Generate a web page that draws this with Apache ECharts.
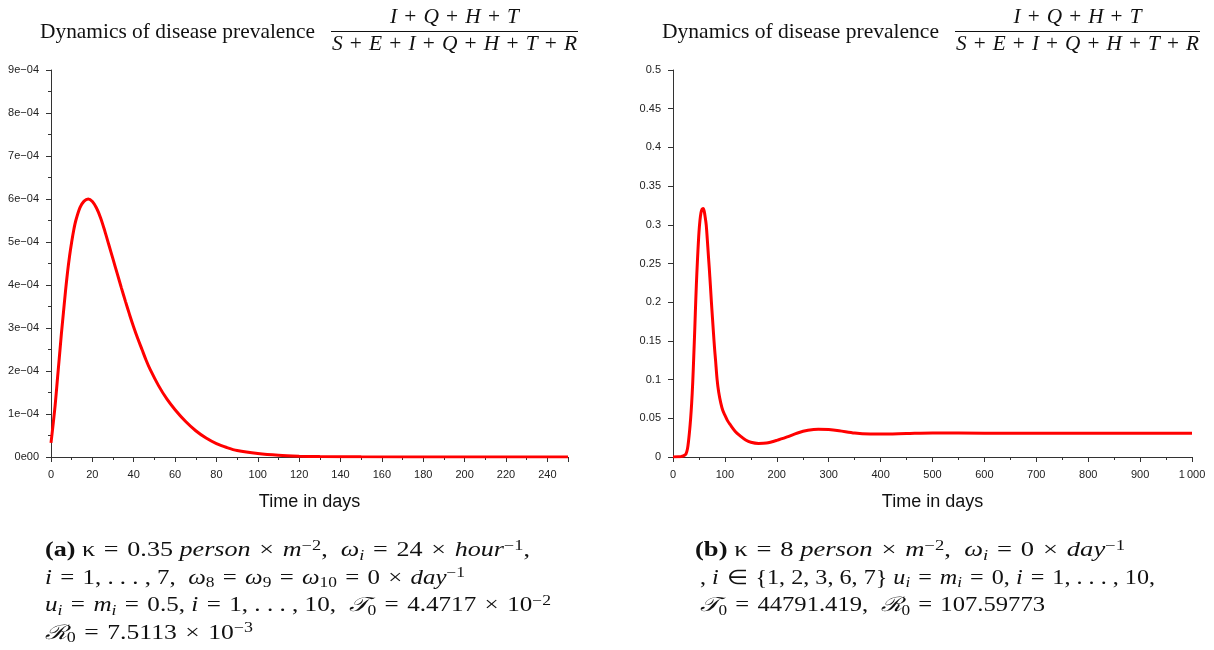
<!DOCTYPE html>
<html><head><meta charset="utf-8">
<script src="https://cdn.jsdelivr.net/npm/echarts@6/dist/echarts.min.js"></script>
<style>html,body{margin:0;padding:0;background:#fff}#c{width:1214px;height:650px}</style>
</head><body><div id="c"></div>
<script>
// ---- data ----
const leftDays = [0,1,2,3,4,5,6,7,8,9,10,11,12,14,16,18,20,22,24,26,28,30,32,34,36,38,40,42,44,46,48,52,56,60,65,70,75,80,85,90,100,110,120,130,150,200,250];
const leftPrev = [0.33e-4,0.75e-4,1.2e-4,1.75e-4,2.3e-4,2.85e-4,3.35e-4,3.85e-4,4.3e-4,4.68e-4,5.0e-4,5.28e-4,5.5e-4,5.8e-4,5.95e-4,6.0e-4,5.94e-4,5.79e-4,5.56e-4,5.26e-4,4.93e-4,4.6e-4,4.27e-4,3.94e-4,3.62e-4,3.31e-4,3.02e-4,2.75e-4,2.5e-4,2.25e-4,2.03e-4,1.66e-4,1.35e-4,1.1e-4,0.83e-4,0.61e-4,0.44e-4,0.31e-4,0.22e-4,0.15e-4,0.08e-4,0.04e-4,0.02e-4,0.01e-4,0.003e-4,0,0];

const rightDays = [0,10,15,20,25,28,30,32,34,36,38,40,42,44,46,48,50,52,54,56,58,60,62,64,66,68,70,72,74,76,78,80,82,85,88,92,96,100,105,110,120,130,140,150,165,180,200,220,240,260,280,300,320,350,380,400,450,500,600,700,800,900,1000];
const rightPrev = [0,0.0002,0.0005,0.0015,0.004,0.011,0.021,0.034,0.05,0.07,0.096,0.13,0.166,0.205,0.238,0.266,0.29,0.306,0.316,0.32,0.321,0.318,0.31,0.3,0.282,0.262,0.243,0.222,0.2,0.18,0.16,0.141,0.125,0.1,0.084,0.07,0.06,0.054,0.047,0.042,0.033,0.027,0.022,0.019,0.0175,0.018,0.0215,0.026,0.031,0.0345,0.036,0.0355,0.034,0.031,0.0297,0.0296,0.0303,0.031,0.0307,0.0306,0.0306,0.0306,0.0306];

const leftYTickLabels = ['0e00','1e\u221204','2e\u221204','3e\u221204','4e\u221204','5e\u221204','6e\u221204','7e\u221204','8e\u221204','9e\u221204'];
const leftXTickLabels = ['0','20','40','60','80','100','120','140','160','180','200','220','240'];
const rightYTickLabels = ['0','0.05','0.1','0.15','0.2','0.25','0.3','0.35','0.4','0.45','0.5'];
const rightXTickLabels = ['0','100','200','300','400','500','600','700','800','900','1\u2009000'];

const xAxisName = 'Time in days';
const titleText = 'Dynamics of disease prevalence';
// ---- end data ----

const SANS = 'Liberation Sans';
const SERIF = 'Liberation Serif';
const axisColor = '#333';
const S = '\u2004'; // math spacing

function axisCommon() {
  return {
    axisLine: {show: true, lineStyle: {color: axisColor, width: 1}},
    axisTick: {show: true, inside: false, length: 5, lineStyle: {color: axisColor}},
    splitLine: {show: false}
  };
}
function lbl(arr, step) {
  return {color: '#222', fontSize: 11, fontFamily: SANS, margin: 12,
    formatter: v => arr[Math.round(v / step)] || ''};
}
const minor = {show: true, splitNumber: 2, length: 3, lineStyle: {color: axisColor}};
const nameStyle = {fontFamily: SANS, fontSize: 18, color: '#111'};

const xAxes = [
  Object.assign(axisCommon(), {type: 'value', gridIndex: 0, min: 0, max: 250, interval: 20,
    minorTick: minor, axisLabel: lbl(leftXTickLabels, 20),
    name: xAxisName, nameLocation: 'middle', nameGap: 36, nameTextStyle: nameStyle}),
  Object.assign(axisCommon(), {type: 'value', gridIndex: 1, min: 0, max: 1000, interval: 100,
    minorTick: minor, axisLabel: lbl(rightXTickLabels, 100),
    name: xAxisName, nameLocation: 'middle', nameGap: 36, nameTextStyle: nameStyle})
];
const yAxes = [
  Object.assign(axisCommon(), {type: 'value', gridIndex: 0, min: 0, max: 9e-4, interval: 1e-4,
    minorTick: minor, axisLabel: lbl(leftYTickLabels, 1e-4)}),
  Object.assign(axisCommon(), {type: 'value', gridIndex: 1, min: 0, max: 0.5, interval: 0.05,
    axisLabel: lbl(rightYTickLabels, 0.05)})
];

function pairs(xs, ys) { return xs.map((x, i) => [x, ys[i]]); }

const FS = 20, SFS = 14, LH = 24;
const baseStyle = {fontFamily: SERIF, fontSize: FS, fill: '#111', lineHeight: LH};
const richMath = {
  n: {fontFamily: SERIF, fontSize: FS, fill: '#111', lineHeight: LH},
  T: {fontFamily: SERIF, fontSize: 21, fill: '#111', lineHeight: LH},
  i: {fontFamily: SERIF, fontSize: FS, fontStyle: 'italic', fill: '#111', lineHeight: LH},
  b: {fontFamily: SERIF, fontSize: FS, fontWeight: 'bold', fill: '#111', lineHeight: LH},
  sup: {fontFamily: SERIF, fontSize: SFS, fill: '#111', lineHeight: LH, verticalAlign: 'top'},
  sub: {fontFamily: SERIF, fontSize: SFS, fill: '#111', lineHeight: LH, verticalAlign: 'bottom'},
  isub: {fontFamily: SERIF, fontSize: SFS, fontStyle: 'italic', fill: '#111', lineHeight: LH, verticalAlign: 'bottom'}
};

const mctx = document.createElement('canvas').getContext('2d');
function fontOf(s) {
  return (s.fontStyle || 'normal') + ' ' + (s.fontWeight || 'normal') + ' ' + s.fontSize + 'px "' + s.fontFamily + '"';
}
function measureRich(text) {
  const re = /\{([a-zA-Z0-9_]+)\|([^}]*)\}/g;
  let w = 0, last = 0, m;
  while ((m = re.exec(text))) {
    if (m.index > last) { mctx.font = fontOf(baseStyle); w += mctx.measureText(text.slice(last, m.index)).width; }
    mctx.font = fontOf(Object.assign({}, baseStyle, richMath[m[1]]));
    w += mctx.measureText(m[2]).width;
    last = re.lastIndex;
  }
  if (last < text.length) { mctx.font = fontOf(baseStyle); w += mctx.measureText(text.slice(last)).width; }
  return w;
}

function textEl(x, y, text, targetW, align, scaleOverride) {
  const sx = scaleOverride || (targetW ? targetW / measureRich(text) : 1);
  return {type: 'text', x: x, y: y, scaleX: sx, silent: true,
    style: Object.assign({text: text, align: align || 'left', verticalAlign: 'middle', rich: richMath}, baseStyle)};
}

const numer = '{i|I}{n|' + S + '+' + S + '}{i|Q}{n|' + S + '+' + S + '}{i|H}{n|' + S + '+' + S + '}{i|T}';
const denom = '{i|S}{n|' + S + '+' + S + '}{i|E}{n|' + S + '+' + S + '}{i|I}{n|' + S + '+' + S + '}{i|Q}{n|' + S + '+' + S + '}{i|H}{n|' + S + '+' + S + '}{i|T}{n|' + S + '+' + S + '}{i|R}';

function titleGroup(tx, tw, lx1, lx2) {
  const cx = (lx1 + lx2) / 2;
  const dsx = (lx2 - lx1 - 2) / measureRich(denom);
  return [
    textEl(tx, 32, '{T|' + titleText + '}', tw),
    textEl(cx, 18, numer, null, 'center', dsx),
    {type: 'line', silent: true, shape: {x1: lx1, y1: 31.5, x2: lx2, y2: 31.5}, style: {stroke: '#111', lineWidth: 1}},
    textEl(cx, 45, denom, null, 'center', dsx)
  ];
}

const EQ = '{n|' + S + '=' + S + '}';
const X = S + '\u00D7' + S;
const capA = [
  '{b|(a)}{n| \u03BA}' + EQ + '{n|0.35 }{i|person}{n|' + X + '}{i|m}{sup|\u22122}{n|,  }{i|\u03C9}{isub|i}' + EQ + '{n|24' + X + '}{i|hour}{sup|\u22121}{n|,}',
  '{i|i}' + EQ + '{n|1, . . . , 7,  }{i|\u03C9}{sub|8}' + EQ + '{i|\u03C9}{sub|9}' + EQ + '{i|\u03C9}{sub|10}' + EQ + '{n|0' + X + '}{i|day}{sup|\u22121}',
  '{i|u}{isub|i}' + EQ + '{i|m}{isub|i}' + EQ + '{n|0.5, }{i|i}' + EQ + '{n|1, . . . , 10,  }{i|\uD835\uDCAF}{sub|0}' + EQ + '{n|4.4717' + X + '10}{sup|\u22122}',
  '{i|\u211B}{sub|0}' + EQ + '{n|7.5113' + X + '10}{sup|\u22123}'
];
const capAWidths = [485, 420, 506, 208];
const capB = [
  '{b|(b)}{n| \u03BA}' + EQ + '{n|8 }{i|person}{n|' + X + '}{i|m}{sup|\u22122}{n|,  }{i|\u03C9}{isub|i}' + EQ + '{n|0' + X + '}{i|day}{sup|\u22121}',
  '{n|, }{i|i}{n|' + S + '\u2208' + S + '}{1, 2, 3, 6, 7}{n| }{i|u}{isub|i}' + EQ + '{i|m}{isub|i}' + EQ + '{n|0, }{i|i}' + EQ + '{n|1, . . . , 10,}',
  '{i|\uD835\uDCAF}{sub|0}' + EQ + '{n|44791.419,  }{i|\u211B}{sub|0}' + EQ + '{n|107.59773}'
];
const capBWidths = [430, 455, 345];

const graphics = []
  .concat(titleGroup(40, 275, 331, 578))
  .concat(titleGroup(662, 277, 955, 1200))
  .concat(capA.map((t, k) => textEl(45, 551 + k * 27.5, t, capAWidths[k])))
  .concat(capB.map((t, k) => textEl(k === 0 ? 695 : 700, 551 + k * 27.5, t, capBWidths[k])));

const chart = echarts.init(document.getElementById('c'), null, {renderer: 'canvas'});
chart.setOption({
  animation: false,
  backgroundColor: '#fff',
  grid: [
    {left: 51, top: 70, width: 517, height: 387},
    {left: 673, top: 70, width: 519, height: 387}
  ],
  xAxis: xAxes,
  yAxis: yAxes,
  series: [
    {type: 'line', xAxisIndex: 0, yAxisIndex: 0, data: pairs(leftDays, leftPrev), showSymbol: false,
      smooth: 0.3, lineStyle: {color: '#ff0000', width: 3}},
    {type: 'line', xAxisIndex: 1, yAxisIndex: 1, data: pairs(rightDays, rightPrev), showSymbol: false,
      smooth: 0.3, lineStyle: {color: '#ff0000', width: 3}}
  ],
  graphic: graphics
});
</script></body></html>
